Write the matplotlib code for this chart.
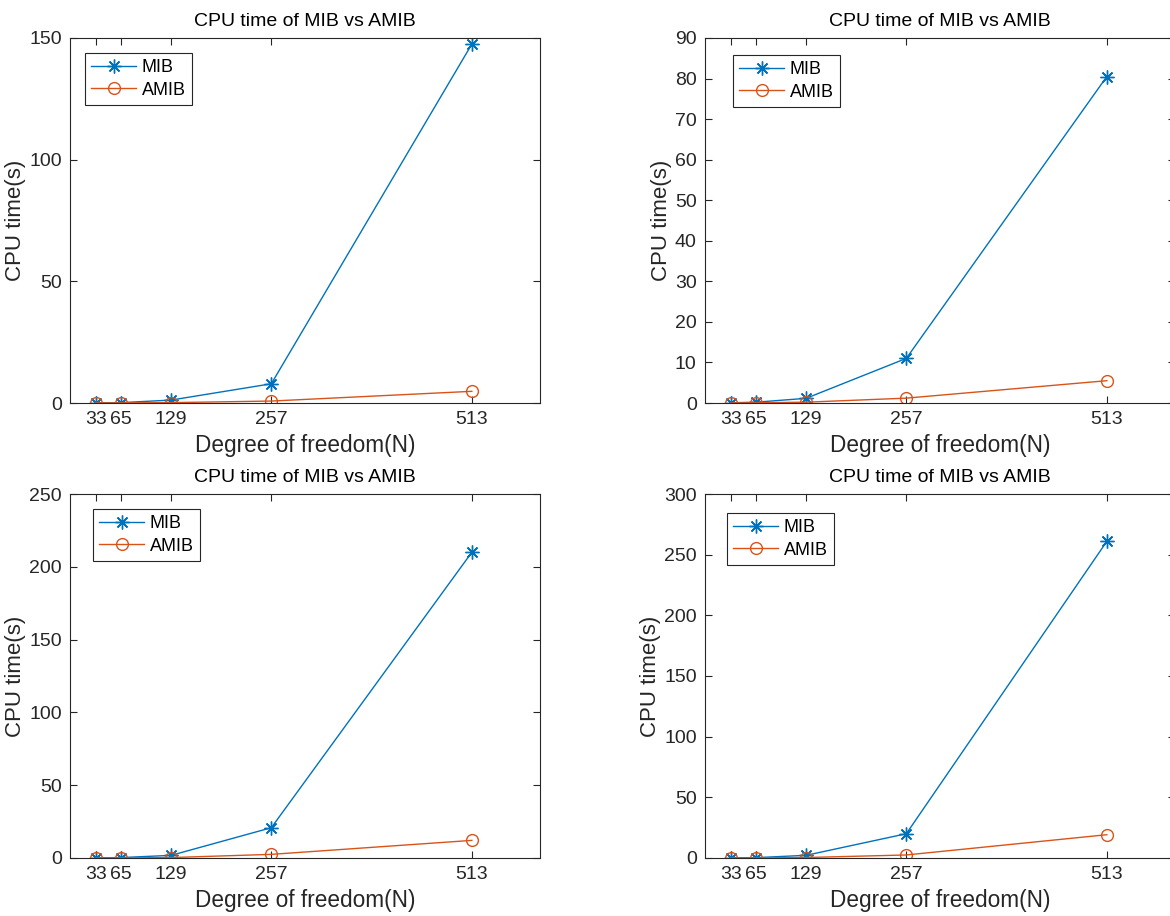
import matplotlib.pyplot as plt
import numpy as np

plt.rcParams['font.family'] = ['Liberation Sans', 'DejaVu Sans']

dof = [33, 65, 129, 257, 513]

mib_1 = [0.05, 0.15, 1.2, 7.9, 147.5]
amib_1 = [0.02, 0.05, 0.15, 0.8, 4.8]

mib_2 = [0.05, 0.2, 1.15, 11.0, 80.5]
amib_2 = [0.02, 0.05, 0.2, 1.2, 5.5]

mib_3 = [0.1, 0.3, 1.8, 20.8, 210.0]
amib_3 = [0.03, 0.08, 0.3, 2.5, 12.1]

mib_4 = [0.1, 0.3, 2.2, 20.0, 261.0]
amib_4 = [0.03, 0.08, 0.4, 2.5, 19.2]

ylims = [150, 90, 250, 300]
yticks = [[0, 50, 100, 150], list(range(0, 91, 10)),
          [0, 50, 100, 150, 200, 250], [0, 50, 100, 150, 200, 250, 300]]

c_mib = '#0072BD'
c_amib = '#D95319'
c_ax = '#262626'

W, H = 1170, 916
fig = plt.figure(figsize=(W / 100, H / 100), dpi=100)

# axes boxes in pixels: left, top, width, height
boxes = [(70, 38, 470, 365), (705, 38, 470, 365),
         (70, 494, 470, 364), (705, 494, 470, 364)]
# legend offsets from axes top-left corner, pixels
leg_off = [(15, 15), (28, 17), (23, 15), (22, 19)]

data = [(mib_1, amib_1), (mib_2, amib_2), (mib_3, amib_3), (mib_4, amib_4)]

star = (8, 2, 0)  # asterisk like matlab '*'

for i, (l, t, w, h) in enumerate(boxes):
    ax = fig.add_axes([l / W, 1 - (t + h) / H, w / W, h / H])
    mib, amib = data[i]
    ax.plot(dof, mib, color=c_mib, lw=1.0, marker=star, ms=10,
            markeredgewidth=1.0, label='MIB')
    ax.plot(dof, amib, color=c_amib, lw=1.0, marker='o', ms=8.5,
            mfc='none', markeredgewidth=1.0, label='AMIB')
    ax.set_xlim(0, 600)
    ax.set_ylim(0, ylims[i])
    ax.set_xticks(dof)
    ax.set_yticks(yticks[i])
    ax.tick_params(direction='in', top=True, right=True, length=5,
                   width=0.8, colors=c_ax, labelsize=14, pad=6)
    for s in ax.spines.values():
        s.set_color(c_ax)
        s.set_linewidth(0.8)
    ax.set_title('CPU time of MIB vs AMIB', fontsize=14, color='black', pad=9)
    ax.set_xlabel('Degree of freedom(N)', fontsize=16.3, color=c_ax, labelpad=4)
    ax.set_ylabel('CPU time(s)', fontsize=16, color=c_ax, labelpad=2)
    ox, oy = leg_off[i]
    leg = ax.legend(loc='upper left',
                    bbox_to_anchor=(ox / w, 1 - oy / h),
                    borderaxespad=0, fontsize=13, handlelength=2.5,
                    handletextpad=0.3, borderpad=0.35, labelspacing=0.3,
                    fancybox=False, framealpha=1)
    leg.get_frame().set_edgecolor(c_ax)
    leg.get_frame().set_linewidth(0.8)

fig.savefig('out.png', dpi=100)
